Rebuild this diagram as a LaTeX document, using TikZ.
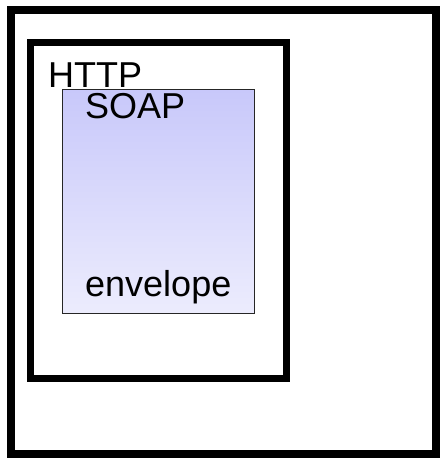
\documentclass[tikz,border=0pt]{standalone}
\usepackage{fontspec}
\setmainfont{Liberation Sans}
\usetikzlibrary{positioning}
\definecolor{soaptop}{RGB}{200, 200, 250}
\definecolor{soapbottom}{RGB}{236, 236, 253}
\begin{document}
\begin{tikzpicture}[
    x=1pt, y=-1pt,
    every node/.style = {font=\fontsize{36}{40}\selectfont},
    framebox/.style = {
        rectangle, draw=black, line width=8pt,
        inner sep=0pt, outer sep=0pt, anchor=north west
    },
    soapbox/.style = {
        rectangle, draw=black!85, line width=1pt,
        top color=soaptop, bottom color=soapbottom,
        inner sep=0pt, outer sep=0pt, anchor=north west,
        minimum width=192pt, minimum height=224pt
    },
    tag/.style = {inner sep=0pt, anchor=base west},
]
\useasboundingbox (0,0) rectangle (440,458);

% Outer frame
\node[framebox, minimum width=425pt, minimum height=444pt] (outer) at (11,10) {};

% HTTP frame
\node[framebox, line width=7.5pt, minimum width=256pt, minimum height=336pt] (http) at (30.5,42.5) {};
\node[tag] (httplabel) at (48,87) {HTTP};

% SOAP envelope
\node[soapbox] (soap) at (62,89) {};
\node[tag] (soaplabel) at (85,118) {SOAP};
\node[tag] (envlabel) at (85,296) {envelope};

\end{tikzpicture}
\end{document}
